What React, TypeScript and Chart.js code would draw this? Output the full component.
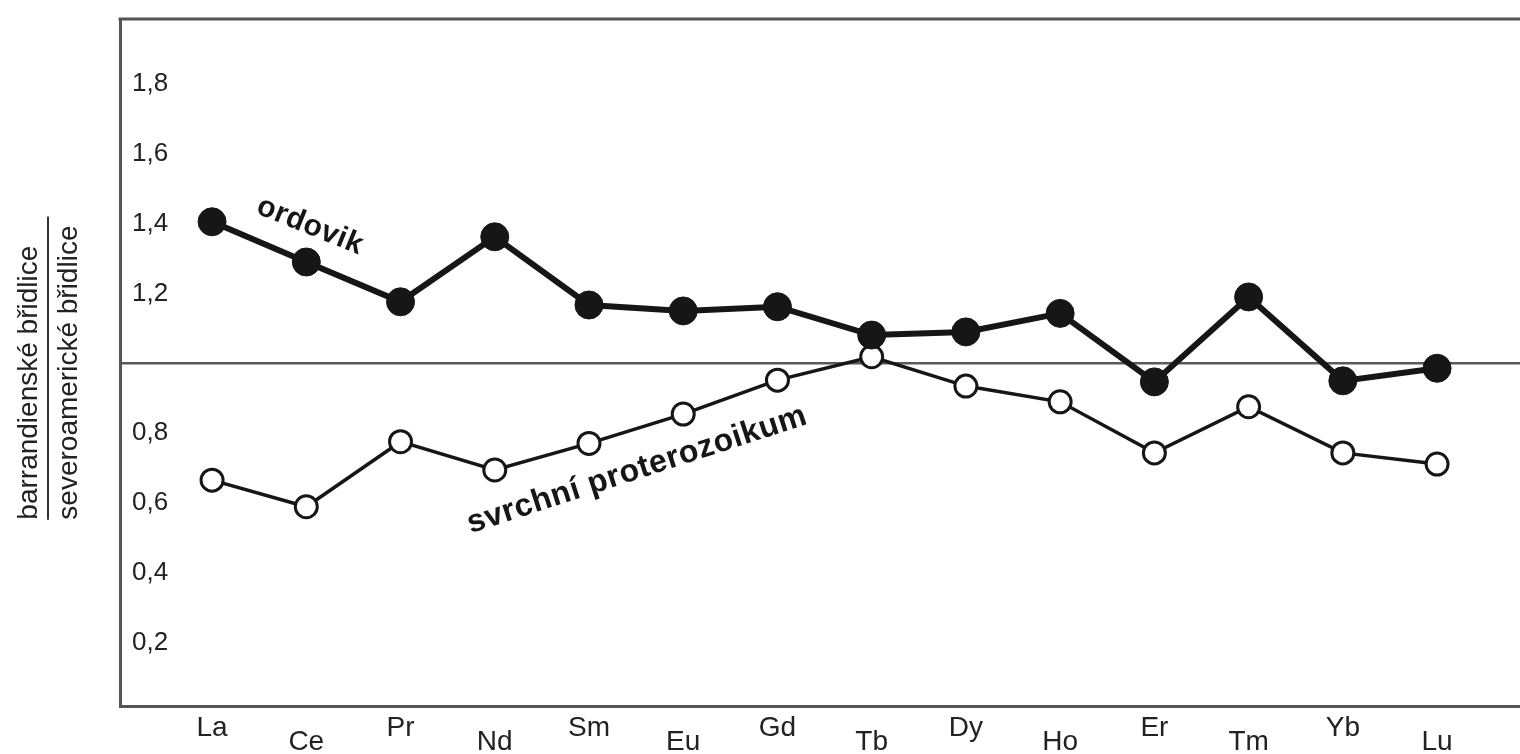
import { useEffect, useRef } from 'react';
import { Chart, registerables } from 'chart.js';

Chart.register(...registerables);

const elements = ['La', 'Ce', 'Pr', 'Nd', 'Sm', 'Eu', 'Gd', 'Tb', 'Dy', 'Ho', 'Er', 'Tm', 'Yb', 'Lu'];
const ordovikValues = [1.405, 1.29, 1.176, 1.362, 1.167, 1.15, 1.162, 1.081, 1.09, 1.143, 0.947, 1.19, 0.95, 0.986];
const proterozoikumValues = [0.666, 0.59, 0.776, 0.695, 0.771, 0.855, 0.952, 1.019, 0.935, 0.89, 0.744, 0.876, 0.744, 0.712];
const yTickValues = [0.2, 0.4, 0.6, 0.8, 1.0, 1.2, 1.4, 1.6, 1.8];
const yTitleTop = 'barrandienské břidlice';
const yTitleBottom = 'severoamerické břidlice';
const labelOrdovik = 'ordovik';
const labelProterozoikum = 'svrchní proterozoikum';

const FONT = '"Liberation Sans", Arial, sans-serif';
const INK = '#161616';
const TEXT = '#222222';
const FRAME = '#555555';

const zeroPadding = (axis: any) => {
  axis.paddingTop = 0;
  axis.paddingBottom = 0;
  axis.paddingLeft = 0;
  axis.paddingRight = 0;
};

const decorPlugin = {
  id: 'decor',
  afterDraw(chart: any) {
    const { ctx, chartArea, scales } = chart;
    const x = scales.x;
    const y = scales.y;
    ctx.save();
    // top frame line
    ctx.strokeStyle = FRAME;
    ctx.lineWidth = 3;
    ctx.beginPath();
    ctx.moveTo(chartArea.left - 1.5, chartArea.top);
    ctx.lineTo(chartArea.right, chartArea.top);
    ctx.stroke();

    // y axis title as a fraction
    const yStart = y.getPixelForValue(0.553);
    const yEnd = y.getPixelForValue(1.42);
    ctx.strokeStyle = '#333';
    ctx.lineWidth = 2;
    ctx.beginPath();
    ctx.moveTo(48, yStart);
    ctx.lineTo(48, yEnd);
    ctx.stroke();
    ctx.fillStyle = TEXT;
    ctx.font = `28px ${FONT}`;
    ctx.textAlign = 'left';
    ctx.textBaseline = 'alphabetic';
    ctx.save();
    ctx.translate(37, yStart);
    ctx.rotate(-Math.PI / 2);
    ctx.fillText(yTitleTop, 0, 0);
    ctx.restore();
    ctx.save();
    ctx.translate(77, yStart);
    ctx.rotate(-Math.PI / 2);
    ctx.fillText(yTitleBottom, 0, 0);
    ctx.restore();

    // series annotations
    const drawRot = (text: string, px: number, py: number, deg: number, font: string, spacing: string) => {
      ctx.save();
      ctx.translate(px, py);
      ctx.rotate((deg * Math.PI) / 180);
      ctx.font = font;
      (ctx as any).letterSpacing = spacing;
      ctx.fillStyle = INK;
      ctx.textAlign = 'center';
      ctx.textBaseline = 'middle';
      ctx.fillText(text, 0, 0);
      ctx.restore();
    };
    drawRot(labelOrdovik, x.getPixelForValue(1.04), y.getPixelForValue(1.393), 22, `bold 30px ${FONT}`, '0.5px');
    drawRot(labelProterozoikum, x.getPixelForValue(4.51), y.getPixelForValue(0.695), -18, `bold 32px ${FONT}`, '0.5px');
    ctx.restore();
  },
};

export default function App() {
  const canvasRef = useRef<HTMLCanvasElement | null>(null);

  useEffect(() => {
    const canvas = canvasRef.current;
    if (!canvas) return;
    const chart = new Chart(canvas, {
      type: 'line',
      data: {
        datasets: [
          {
            label: labelOrdovik,
            data: ordovikValues.map((v, i) => ({ x: i, y: v })),
            borderColor: INK,
            borderWidth: 6,
            backgroundColor: INK,
            pointBackgroundColor: INK,
            pointBorderColor: INK,
            pointBorderWidth: 1,
            pointRadius: 14,
            tension: 0,
          },
          {
            label: labelProterozoikum,
            data: proterozoikumValues.map((v, i) => ({ x: i, y: v })),
            borderColor: INK,
            borderWidth: 3.5,
            backgroundColor: '#ffffff',
            pointBackgroundColor: '#ffffff',
            pointBorderColor: INK,
            pointBorderWidth: 3,
            pointRadius: 11,
            tension: 0,
          },
        ],
      },
      options: {
        responsive: false,
        animation: false,
        events: [],
        layout: { autoPadding: false, padding: { top: 19, left: 0, right: 0, bottom: 0 } },
        plugins: {
          legend: { display: false },
          tooltip: { enabled: false },
        },
        scales: {
          x: {
            type: 'linear',
            min: -0.977,
            max: 13.88,
            afterBuildTicks: (axis: any) => {
              axis.ticks = elements.map((_, i) => ({ value: i }));
            },
            afterFit: (axis: any) => {
              axis.height = 48;
              zeroPadding(axis);
            },
            grid: { display: false, drawTicks: false },
            border: { display: true, color: FRAME, width: 3 },
            ticks: {
              autoSkip: false,
              maxRotation: 0,
              padding: 0,
              color: TEXT,
              font: { family: FONT, size: 28, lineHeight: 0.525 },
              callback: (value: any) => {
                const i = Math.round(Number(value));
                const name = elements[i] ?? '';
                return i % 2 === 1 ? ['', '', name] : ['', name];
              },
            },
          },
          y: {
            type: 'linear',
            min: 0.02,
            max: 1.985,
            afterBuildTicks: (axis: any) => {
              axis.ticks = yTickValues.map((v) => ({ value: v }));
            },
            afterFit: (axis: any) => {
              axis.width = 120;
              zeroPadding(axis);
            },
            grid: {
              drawTicks: false,
              color: (c: any) => (c.tick && Math.abs(c.tick.value - 1) < 1e-6 ? '#5a5a5a' : 'rgba(0,0,0,0)'),
              lineWidth: 2.5,
            },
            border: { display: true, color: FRAME, width: 3 },
            ticks: {
              mirror: true,
              padding: 12,
              color: TEXT,
              font: { family: FONT, size: 26 },
              callback: (value: any) => {
                const v = Number(value);
                if (Math.abs(v - 1) < 1e-6) return '';
                return v.toFixed(1).replace('.', ',');
              },
            },
          },
        },
      },
      plugins: [decorPlugin],
    });
    return () => chart.destroy();
  }, []);

  return (
    <div style={{ position: 'absolute', left: 0, top: 0, width: 1520, height: 754, background: '#ffffff' }}>
      <canvas ref={canvasRef} width={1520} height={754} style={{ display: 'block', width: 1520, height: 754 }} />
    </div>
  );
}
